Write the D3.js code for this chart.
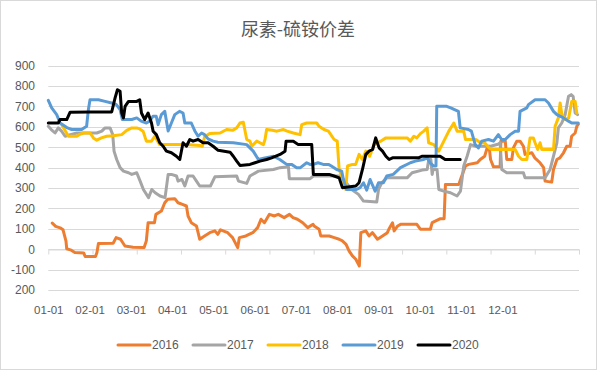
<!DOCTYPE html>
<html><head><meta charset="utf-8">
<script src="https://cdn.jsdelivr.net/npm/d3@7"></script>
<style>body{margin:0;background:#fff}svg{display:block}</style>
</head><body><svg id="c" width="597" height="370"></svg>
<script>
const title = "尿素-硫铵价差";
const yTicks = [900, 800, 700, 600, 500, 400, 300, 200, 100, 0, -100, -200];
const yTickLabels = ["900", "800", "700", "600", "500", "400", "300", "200", "100", "0", "-100", "200"];
const xLabels = ["01-01", "02-01", "03-01", "04-01", "05-01", "06-01", "07-01", "08-01", "09-01", "10-01", "11-01", "12-01"];
const years = ["2016", "2017", "2018", "2019", "2020"];
const colors = ["#ED7D31", "#A5A5A5", "#FFC000", "#5B9BD5", "#000000"];

// [day index, value]
const s2016 = [[2.7,128],[5,112],[8,105],[10,95],[12,40],[12.5,2],[15,-3],[18,-16],[24,-18],[25,-36],[32,-36],[33,-16],[34,28],[44,29],[46,57],[49,49],[52,16],[57.5,10],[65,8],[66.5,41],[67.7,130],[72,130],[73,171],[76.7,187],[79,228],[81,245],[85.8,248],[88,228],[91,220],[93.7,212],[94.8,163],[97,130],[100.5,114],[102.7,49],[106,65],[109.5,81],[113,90],[115,73],[116.8,95],[121.7,81],[125,57],[128.5,8],[129.6,57],[134,65],[138.7,81],[142,106],[144.3,147],[146.6,130],[150,171],[153.4,163],[156,171],[160,155],[163.6,171],[166,155],[169,147],[172.6,130],[176,106],[179.6,122],[180.3,114],[183.7,98],[184.8,65],[190.5,65],[194,57],[197.3,49],[199.5,41],[202,24],[204,-8],[206.3,-33],[208.6,-49],[211,-82],[212,81],[215.4,90],[217.6,65],[219.9,81],[223.3,49],[226.7,65],[230,81],[231,98],[233.5,130],[234.6,90],[237,114],[239,122],[243.4,122],[250,122],[252.4,98],[259.2,98],[260.4,130],[266,150],[268.5,150],[269.4,318],[278.5,318],[279.6,342],[283,408],[285.2,416],[291,424],[293,440],[296,456],[297.7,497],[299,505],[300,440],[302,404],[306.5,404],[307,530],[310,530],[311,440],[314.4,440],[315.5,497],[317.8,530],[320,530],[322.3,505],[323.4,465],[328,473],[330,448],[333.6,424],[336,400],[337,334],[341.5,329],[342.7,391],[345,440],[347,448],[349.5,473],[351.7,505],[354,505],[355,554],[357.4,570],[358.5,603],[359.5,612]];
const s2017 = [[0,603],[2,587],[4.6,570],[6.8,595],[9,579],[11.4,554],[15,562],[19.3,570],[26,570],[32.9,570],[36.3,579],[38.5,595],[41.9,595],[43.7,562],[44.6,481],[46.4,440],[48.7,400],[51,383],[54.4,375],[56.6,367],[60,375],[62.3,334],[64.5,293],[68,253],[70.2,293],[72.5,277],[75.8,261],[79.2,253],[81.3,367],[83.5,367],[87,359],[88,334],[90.6,342],[92.6,310],[94.8,359],[98.2,359],[100.5,334],[102.7,310],[110,310],[113,355],[127.8,359],[129,334],[134.6,323],[136.8,359],[142.5,383],[152.7,391],[157.2,400],[162.9,404],[163.5,346],[177.6,346],[179.8,359],[198,359],[200.2,342],[205.8,293],[210.4,269],[213.8,236],[222.8,231],[224,293],[226.2,326],[229.6,350],[243.4,350],[246.8,375],[253.6,388],[257,391],[258.1,440],[259.5,440],[260.4,367],[261,391],[263.7,391],[264.9,293],[268.3,285],[272.8,277],[277.3,261],[279.6,285],[281.8,408],[284.1,456],[286.4,513],[290,505],[300,505],[305,515],[306.5,522],[307.6,391],[311,375],[322.3,375],[323.4,350],[337,350],[340.4,391],[342.7,456],[345,522],[346,595],[348.3,619],[350.6,660],[352.9,750],[354.7,758],[356,750],[357.4,668],[359,660]];
const s2018 = [[9.1,611],[11,587],[13.6,554],[19.3,554],[21,562],[23.8,570],[28.3,570],[30.6,546],[32.9,535],[36,546],[39.6,554],[44,557],[49.8,562],[53.2,583],[56.6,595],[60,595],[62,590],[64.3,579],[66.5,530],[70,530],[72.2,554],[75.6,513],[80,513],[87,513],[93.7,513],[102.7,509],[104.5,505],[106,551],[109.5,567],[116.5,570],[121,587],[125,583],[127.8,595],[130,619],[132.3,623],[134.6,538],[136.8,530],[138,505],[141.4,530],[143.5,522],[145.9,513],[147,538],[148.1,587],[152,583],[155,579],[159.5,587],[162,579],[166.2,570],[170.8,562],[171.9,611],[175.3,619],[182.1,619],[183.7,603],[187,587],[190,579],[193.9,538],[196,530],[197.3,391],[199.5,350],[201.8,293],[203,408],[206.3,416],[208.5,416],[210.8,465],[213,440],[215.4,481],[218,456],[221,513],[225.5,530],[229,546],[239,546],[243.4,546],[245.6,530],[248,554],[250,546],[252.4,567],[254.7,579],[257,595],[258,522],[261.5,513],[264.9,481],[268.3,530],[271.7,579],[275.1,619],[277.3,579],[281.8,579],[283,538],[290,538],[293.2,522],[296,522],[299,497],[300.9,489],[308.8,489],[316.7,489],[319,456],[321.2,440],[324.6,440],[326.8,546],[329,546],[330.2,522],[332,489],[333.6,522],[334.8,489],[342.7,489],[343.8,603],[346,644],[347.2,717],[348.4,660],[350.6,636],[353,644],[355.1,725],[357.4,725],[358.5,668]];
const s2019 = [[0,730],[2.3,693],[5.7,660],[8,619],[11.3,603],[13,595],[15.9,587],[22.6,587],[26,603],[27.2,685],[28.3,733],[34,733],[38.5,725],[43,717],[46,710],[48.7,685],[50.2,636],[56.6,636],[60,644],[63,628],[66.5,619],[68.8,628],[71,652],[73.2,652],[74.5,611],[76.7,660],[79,676],[81.3,580],[83.5,619],[85.8,660],[89,676],[91.4,668],[92.6,619],[97,619],[99.4,580],[101.6,554],[104,570],[106,562],[108.4,541],[111.8,530],[115,525],[125.5,522],[134.6,513],[139,481],[142.5,440],[146.9,448],[150.4,453],[152.7,456],[157,440],[161.7,416],[165,416],[168.5,400],[171,400],[175.3,424],[177.5,416],[179.8,416],[183,424],[186.5,416],[190,416],[192,408],[195.6,391],[199,383],[200.2,342],[202.4,293],[209,293],[211.5,302],[213.8,326],[216,290],[218.3,342],[221.7,285],[224,326],[227.3,326],[229.6,359],[234,367],[238.9,400],[245.6,424],[249,432],[254.7,440],[257,448],[259,424],[261.5,408],[263,408],[263.5,701],[270.3,701],[273,693],[278.2,676],[279.4,595],[285,587],[287,579],[289.6,513],[291.8,497],[294,530],[298.6,538],[302,530],[305.3,562],[307.5,538],[310,538],[313.3,562],[316.7,579],[319,579],[320,676],[324.6,693],[325.7,709],[330.2,733],[337,733],[339.3,717],[342.7,676],[345,660],[349.5,644],[352.9,628],[355,619],[359.5,619]];
const s2020 = [[0,619],[6.8,619],[8,636],[12.5,636],[14.8,672],[28.3,673],[43,673],[45.3,742],[46.9,782],[48.7,774],[49.8,668],[51,644],[52.1,701],[54.4,725],[60,725],[62,733],[63.2,668],[65.4,636],[67.7,668],[70,619],[71.1,579],[73.3,562],[75.6,522],[77.9,505],[80.1,481],[83.5,473],[86.9,456],[89.2,440],[91.4,522],[93.7,505],[96,538],[98.2,530],[101.6,538],[105,522],[108.4,522],[111.8,505],[115.2,485],[123.3,476],[125.5,456],[127.8,432],[130,411],[136.8,416],[140.2,424],[143.6,432],[148.1,440],[151.5,448],[157.2,465],[160.6,481],[161.3,530],[166.2,530],[169.6,513],[178.7,513],[179.8,367],[190.5,367],[193.9,359],[197.3,350],[199.5,302],[208.6,310],[210.8,326],[213.1,391],[215.4,465],[217.6,481],[220,489],[222.1,546],[224.4,497],[226.7,481],[229,456],[231.2,440],[233.5,448],[243.2,448],[251.1,448],[253.4,456],[265.8,456],[269.2,440],[279.4,440]];
const seriesData = [s2016, s2017, s2018, s2019, s2020];

const labelStep = 28, tickStep = 30, dayMax = 360;

const svg = d3.select("#c");
const W = 597, H = 370;
svg.append("rect").attr("x",0.5).attr("y",0.5).attr("width",W-1).attr("height",H-1)
  .attr("fill","#fff").attr("stroke","#d9d9d9");

const x = d3.scaleLinear().domain([0, dayMax]).range([48.3, 579]);
const y = d3.scaleLinear().domain([-200, 900]).range([290, 65.7]);

const font = "'Liberation Sans', Arial, sans-serif";
const txt = "#595959";

svg.append("text").attr("x", 298).attr("y", 36).attr("text-anchor","middle")
  .attr("font-family","'Noto Sans CJK SC', sans-serif").attr("font-size",18)
  .attr("fill", txt).text(title);

// gridlines
svg.append("g").selectAll("line").data(yTicks).join("line")
  .attr("x1", x(0)).attr("x2", x(dayMax))
  .attr("y1", d => Math.round(y(d)) + 0.5).attr("y2", d => Math.round(y(d)) + 0.5)
  .attr("stroke", "#d9d9d9").attr("stroke-width", 1);

// y labels
svg.append("g").selectAll("text").data(yTicks).join("text")
  .attr("x", 35).attr("y", d => y(d)).attr("dy","0.36em").attr("text-anchor","end")
  .attr("font-family", font).attr("font-size", 12).attr("fill", txt)
  .text((d,i) => yTickLabels[i]);

// x axis with ticks at zero line
const ax = svg.append("g").attr("transform", `translate(0,${Math.round(y(0)) + 0.5})`)
  .call(d3.axisBottom(x).tickValues(d3.range(0, dayMax + 1, tickStep)).tickSize(5).tickSizeOuter(0).tickFormat(""));
ax.select(".domain").attr("stroke", "#d9d9d9");
ax.selectAll(".tick line").attr("stroke", "#d9d9d9");

// x labels
const xl = svg.append("g").attr("transform", "translate(0,303)")
  .call(d3.axisBottom(x).tickValues(xLabels.map((d,i) => i * labelStep)).tickSize(0).tickFormat((d,i) => xLabels[i]));
xl.select(".domain").remove();
xl.selectAll("text").attr("font-family", font).attr("font-size", 11.5).attr("fill", txt);

// lines
const line = d3.line().x(d => x(d[0])).y(d => y(d[1]));
svg.append("g").selectAll("path").data(seriesData).join("path")
  .attr("d", line).attr("fill","none")
  .attr("stroke", (d,i) => colors[i]).attr("stroke-width", 3)
  .attr("stroke-linejoin","round").attr("stroke-linecap","round");

// legend
const lg = svg.append("g").selectAll("g").data(years).join("g")
  .attr("transform", (d,i) => `translate(${118 + i * 75},345)`);
lg.append("line").attr("x1",0).attr("x2",32).attr("y1",0).attr("y2",0)
  .attr("stroke", (d,i) => colors[i]).attr("stroke-width",3).attr("stroke-linecap","round");
lg.append("text").attr("x", 34).attr("y", 0).attr("dy","0.36em")
  .attr("font-family", font).attr("font-size", 12).attr("fill", txt).text(d => d);
</script></body></html>
